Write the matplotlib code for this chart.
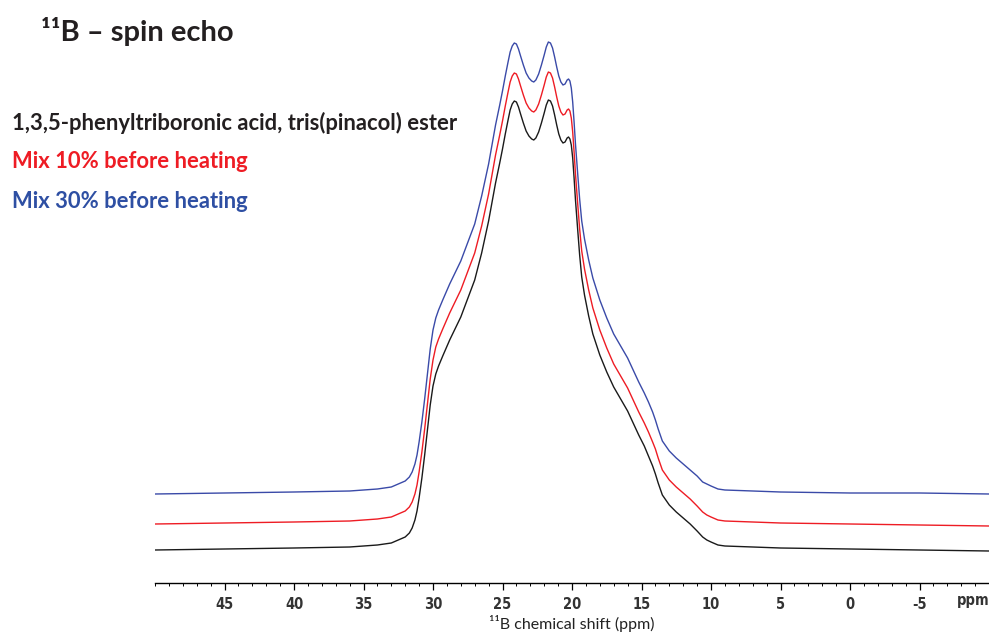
import matplotlib
matplotlib.use("Agg")
import matplotlib.pyplot as plt
from matplotlib.ticker import MultipleLocator, FixedLocator

# chemical shift grid (ppm)
ppm = [50, 45, 40, 36, 34, 33, 32.5, 32, 31.7, 31.5, 31.3, 31.15, 31.0, 30.8, 30.6,
       30.4, 30.2, 30.0, 29.8, 29.6, 29.3, 28.8, 28.0, 27.0, 26.5, 26.0, 25.5, 25.2,
       25.0, 24.8, 24.6, 24.45, 24.3, 24.15, 24.0, 23.85, 23.7, 23.5, 23.3, 23.1,
       22.9, 22.75, 22.6, 22.4, 22.2, 22.0, 21.85, 21.7, 21.55, 21.4, 21.25, 21.1,
       20.95, 20.8, 20.65, 20.5, 20.35, 20.25, 20.15, 20.05, 19.95, 19.85, 19.75,
       19.6, 19.45, 19.3, 19.1, 18.8, 18.5, 18.0, 17.5, 17.0, 16.5, 16.0, 15.6, 15.2,
       14.8, 14.5, 14.2, 14.0, 13.8, 13.5, 13.0, 12.5, 12.0, 11.5, 11.0, 10.6, 10.3,
       10.0, 9.5, 9.0, 7.0, 5.0, 0, -5, -10]

# stacked intensities (arbitrary units, stacking offsets included)
ester = [33, 34, 35, 36, 38, 40, 43, 46, 50, 55, 63, 72, 85, 105, 128,
         153, 178, 197, 209, 217, 227, 243, 266, 303, 330, 362, 400, 420,
         434, 449, 463, 473, 479, 482, 481, 476, 469, 460, 452, 447,
         444, 443, 445, 451, 460, 470, 478, 483, 482, 477, 468, 458,
         449, 443, 440, 441, 445, 446, 444, 438, 425, 405, 383,
         355, 328, 306, 288, 267, 249, 228, 211, 196, 184, 172, 160, 148,
         137, 127, 117, 109, 100, 88, 78, 71, 65, 59, 52, 46, 43,
         41, 38, 37, 36, 35, 34, 33, 32]
mix10 = [59, 60, 61, 62, 64, 66, 69, 72, 76, 81, 89, 98, 111, 131, 154,
         179, 204, 223, 236, 244, 254, 270, 293, 330, 357, 389, 428, 448,
         462, 477, 491, 501, 507, 510, 509, 504, 497, 488, 480, 475,
         472, 471, 473, 479, 488, 498, 506, 511, 510, 505, 496, 486,
         477, 471, 468, 469, 473, 474, 472, 465, 451, 431, 409,
         381, 354, 332, 314, 293, 275, 253, 235, 219, 207, 195, 183, 171,
         160, 151, 141, 134, 125, 113, 103, 96, 90, 84, 77, 71, 68,
         66, 63, 62, 61, 60, 59, 58, 57]
mix30 = [89, 90, 91, 92, 94, 96, 99, 102, 106, 111, 119, 128, 141, 161, 184,
         209, 234, 253, 265, 273, 283, 299, 322, 359, 387, 419, 458, 478,
         492, 507, 521, 531, 537, 540, 539, 534, 527, 518, 510, 505,
         502, 501, 503, 509, 518, 528, 536, 541, 540, 535, 526, 516,
         507, 501, 498, 499, 503, 504, 502, 495, 481, 461, 439,
         411, 384, 362, 344, 323, 305, 283, 265, 249, 237, 225, 213, 201,
         190, 181, 171, 163, 154, 142, 132, 125, 119, 113, 107, 101, 99,
         97, 94, 93, 92, 91, 90, 90, 89]

major_ticks = [45, 40, 35, 30, 25, 20, 15, 10, 5, 0, -5]
major_labels = ["45", "40", "35", "30", "25", "20", "15", "10", "5", "0", "-5"]

W, H = 989, 633
fig = plt.figure(figsize=(W / 100, H / 100), dpi=100)
ax = fig.add_axes([155 / W, (H - 583) / H, (W - 155) / W, 583 / H])

ax.plot(ppm, ester, color="#1a1a1a", lw=1.0)
ax.plot(ppm, mix10, color="#ee1c24", lw=1.0)
ax.plot(ppm, mix30, color="#3a4aa8", lw=1.0)

ax.set_xlim(50, -10)
ax.set_ylim(0, 583)
for s in ["left", "right", "top"]:
    ax.spines[s].set_visible(False)
ax.spines["bottom"].set_linewidth(1.0)
ax.set_yticks([])
ax.xaxis.set_major_locator(FixedLocator(major_ticks))
ax.set_xticklabels(major_labels)
ax.xaxis.set_minor_locator(MultipleLocator(1))
ax.tick_params(axis="x", which="major", direction="out", length=5, width=0.9, pad=5,
               labelsize=10.5, labelcolor="#333333")
ax.tick_params(axis="x", which="minor", direction="out", length=2.5, width=0.7)
for lab in ax.get_xticklabels():
    lab.set_fontweight("bold")
    lab.set_fontstretch("condensed")

ax.text(-8.87, -17, "ppm", ha="center", va="center", fontsize=10.5, fontweight="bold",
        fontstretch="condensed", color="#333333")
ax.set_xlabel("¹¹B chemical shift (ppm)", fontsize=11.5, family="Lato", labelpad=2,
              color="#222222")

fig.text(41 / W, 1 - 31 / H, "¹¹B – spin echo", fontsize=21, fontweight="bold",
         family="Lato", va="center", ha="left", color="#231f20")
fig.text(12 / W, 1 - 123 / H, "1,3,5-phenyltriboronic acid, tris(pinacol) ester",
         fontsize=15.8, fontweight="bold", family="Lato", va="center", color="#231f20")
fig.text(12 / W, 1 - 162 / H, "Mix 10% before heating", fontsize=15.8,
         fontweight="bold", family="Lato", va="center", color="#ee1c24")
fig.text(12 / W, 1 - 201 / H, "Mix 30% before heating", fontsize=15.8,
         fontweight="bold", family="Lato", va="center", color="#2e4fa3")

fig.savefig("out.png", dpi=100)
